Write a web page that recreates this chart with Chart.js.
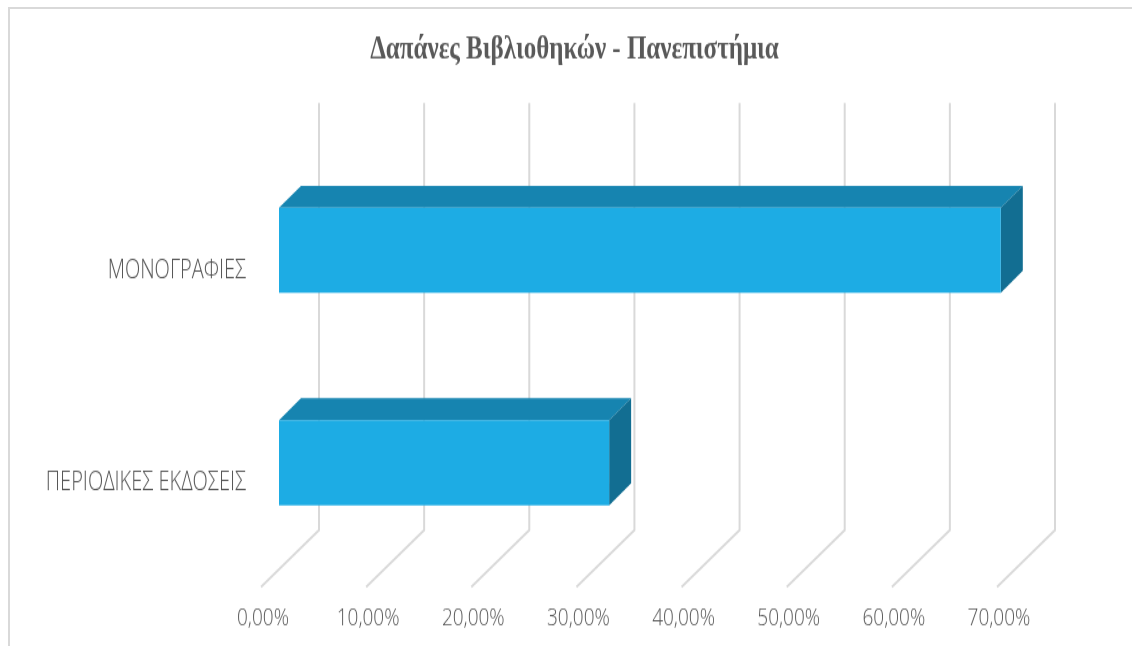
<!DOCTYPE html>
<html>
<head>
<meta charset="utf-8">
<style>
html,body{margin:0;padding:0;background:#fff;width:1132px;height:646px;overflow:hidden}
#frame{position:absolute;left:8px;top:7px;right:0;bottom:0;border-top:2px solid #d9d9d9;border-left:2px solid #d9d9d9;pointer-events:none}
canvas{position:absolute;left:0;top:0;transform-origin:0 0;transform:scaleY(1.3)}
</style>
<script src="https://cdn.jsdelivr.net/npm/chart.js@4/dist/chart.umd.min.js"></script>
</head>
<body>
<canvas id="c" width="1132" height="497"></canvas>
<div id="frame"></div>
<script>
const categories = ["ΜΟΝΟΓΡΑΦΙΕΣ", "ΠΕΡΙΟΔΙΚΕΣ ΕΚΔΟΣΕΙΣ"];
const shares = [68.65, 31.4];
const chartTitle = "Δαπάνες Βιβλιοθηκών - Πανεπιστήμια";
const maxShare = 70;
const stepShare = 10;

const K = 1.3;
const depth = {x: 22, y: 22 / K};
const wall = {x: 40, y: 39 / K, top: 41 / K};
const floor = {x: -18, y: 18 / K};
const gridColor = "#d9d9d9";

const box3d = {
  id: "box3d",
  afterLayout(chart) {
    chart.scales.y.left = 0;
  },
  beforeDatasetsDraw(chart) {
    const {ctx, chartArea, scales} = chart;
    const yTop = chartArea.top - wall.top;
    const yBack = chartArea.bottom - wall.y;
    ctx.save();
    ctx.strokeStyle = gridColor;
    ctx.lineWidth = 2;
    scales.x.ticks.forEach(t => {
      const x = scales.x.getPixelForValue(t.value);
      ctx.beginPath();
      ctx.moveTo(x + wall.x, yTop);
      ctx.lineTo(x + wall.x, yBack);
      ctx.lineTo(x + floor.x, chartArea.bottom + floor.y);
      ctx.stroke();
    });
    chart.getDatasetMeta(0).data.forEach(bar => {
      const {x, y, base, height} = bar.getProps(["x", "y", "base", "height"], true);
      const t = y - height / 2, b = y + height / 2;
      ctx.fillStyle = "#1684b0";
      ctx.beginPath();
      ctx.moveTo(base, t);
      ctx.lineTo(base + depth.x, t - depth.y);
      ctx.lineTo(x + depth.x, t - depth.y);
      ctx.lineTo(x, t);
      ctx.closePath();
      ctx.fill();
      ctx.fillStyle = "#126e92";
      ctx.beginPath();
      ctx.moveTo(x, t);
      ctx.lineTo(x + depth.x, t - depth.y);
      ctx.lineTo(x + depth.x, b - depth.y);
      ctx.lineTo(x, b);
      ctx.closePath();
      ctx.fill();
    });
    ctx.restore();
  }
};

new Chart(document.getElementById("c"), {
  type: "bar",
  plugins: [box3d],
  data: {
    labels: categories,
    datasets: [{data: shares, backgroundColor: "#1dace4", barPercentage: 0.4, categoryPercentage: 1}]
  },
  options: {
    indexAxis: "y",
    responsive: false,
    animation: false,
    devicePixelRatio: 1,
    layout: {padding: {left: 134, right: 117, top: 23.5, bottom: 0}},
    plugins: {
      legend: {display: false},
      tooltip: {enabled: false},
      title: {
        display: true,
        text: chartTitle,
        color: "#595959",
        font: {family: "'Liberation Serif'", size: 25, weight: "bold"},
        padding: {top: 0, bottom: 57.3}
      }
    },
    scales: {
      x: {
        min: 0,
        max: maxShare,
        grid: {display: false},
        border: {display: false},
        afterFit(s) { s.height = 497 - 569 / K; },
        ticks: {
          stepSize: stepShare,
          autoSkip: false,
          maxRotation: 0,
          labelOffset: -16,
          padding: 19,
          color: "#565656",
          font: {family: "'Open Sans'", size: 19, weight: "300"},
          callback: v => v.toFixed(2).replace(".", ",") + "%"
        }
      },
      y: {
        grid: {display: false},
        border: {display: false},
        afterFit(s) { s.width = 145; },
        ticks: {
          padding: 25,
          labelOffset: 15.4,
          color: "#565656",
          font: {family: "'Open Sans'", size: 20, weight: "300"}
        }
      }
    }
  }
});
</script>
</body>
</html>
